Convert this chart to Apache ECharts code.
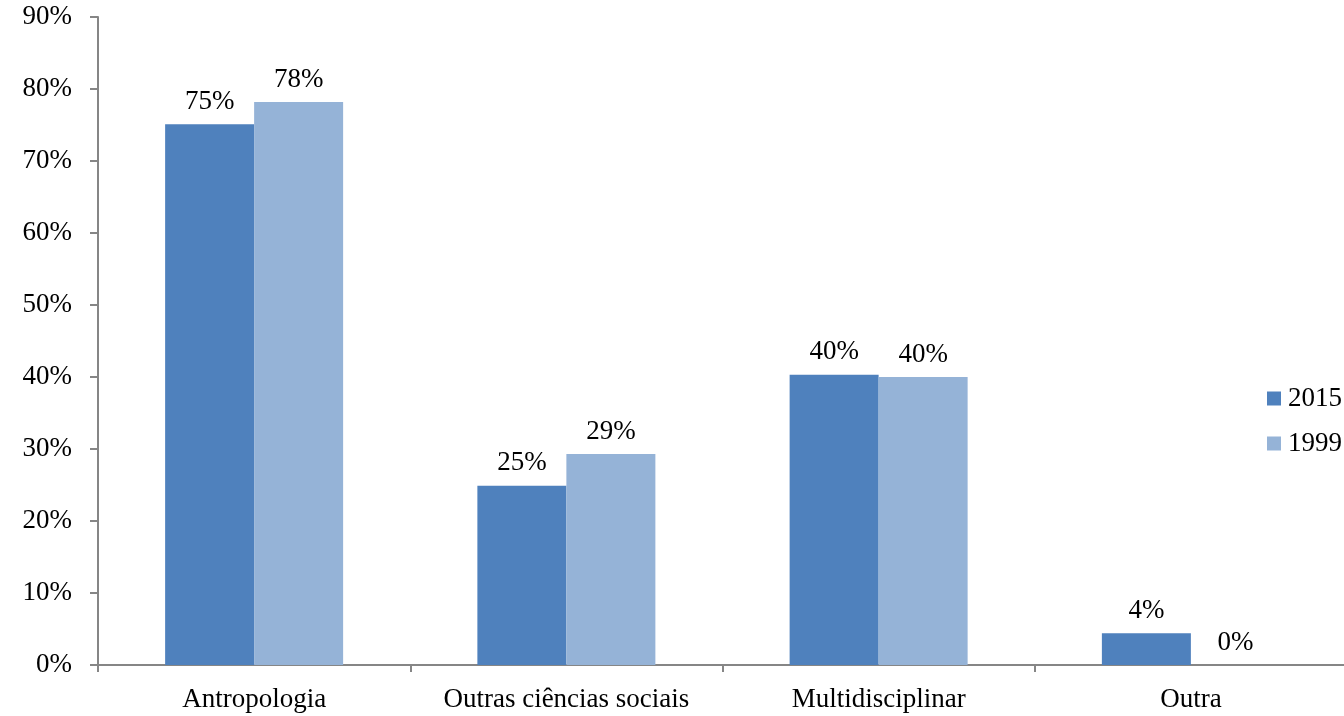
<!DOCTYPE html>
<html><head><meta charset="utf-8">
<script src="https://cdn.jsdelivr.net/npm/echarts@6/dist/echarts.min.js"></script>
<style>html,body{margin:0;padding:0;background:#fff;overflow:hidden}#c{width:1352px;height:716px}</style>
</head><body><div id="c"></div>
<script>
const categories = ['Antropologia', 'Outras ciências sociais', 'Multidisciplinar', 'Outra'];
const series2015 = [75.1, 24.9, 40.3, 4.4];
const series1999 = [78.2, 29.3, 40.0, 0];
const seriesNames = ['2015', '1999'];
const FONT = 'Liberation Serif';
const FS = 27;
const chart = echarts.init(document.getElementById('c'));
const lbl = {show: true, position: 'top', distance: 9, color: '#000', fontFamily: FONT, fontSize: FS,
  formatter: p => Math.round(p.value) + '%'};
chart.setOption({
  animation: false,
  textStyle: {fontFamily: FONT},
  grid: {left: 98, top: 17, bottom: 51, width: 1249},
  legend: {orient: 'vertical', left: 1262, top: 380, itemWidth: 14, itemHeight: 14, itemGap: 18,
    icon: 'rect', textStyle: {fontFamily: FONT, fontSize: FS, color: '#000', padding: [2,0,0,2]},
    data: seriesNames},
  xAxis: {type: 'category', data: categories,
    axisLine: {lineStyle: {color: '#868686', width: 2}},
    axisTick: {show: true, interval: 0, length: 7, lineStyle: {color: '#868686', width: 2}},
    axisLabel: {interval: 0, color: '#000', fontFamily: FONT, fontSize: FS, margin: 21}},
  yAxis: {type: 'value', min: 0, max: 90, interval: 10,
    axisLine: {show: true, lineStyle: {color: '#868686', width: 2}},
    axisTick: {show: true, length: 8, lineStyle: {color: '#868686', width: 2}},
    splitLine: {show: false},
    axisLabel: {color: '#000', fontFamily: FONT, fontSize: FS, margin: 26, formatter: '{value}%'}},
  series: [
    {name: seriesNames[0], type: 'bar', data: series2015, barWidth: 89, barGap: '0%',
      itemStyle: {color: '#4F81BD'}, label: lbl},
    {name: seriesNames[1], type: 'bar', data: series1999, barWidth: 89,
      itemStyle: {color: '#95B3D7'}, label: lbl}
  ]
});
</script></body></html>
